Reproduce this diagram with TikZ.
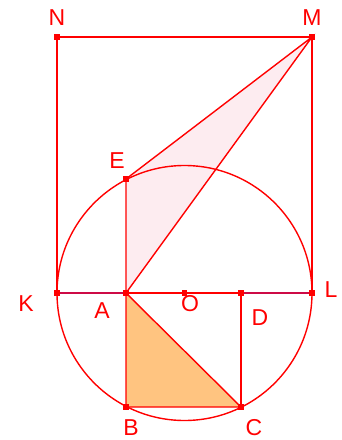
\documentclass[tikz,border=0pt]{standalone}
\usepackage{fontspec}
\setmainfont{Liberation Sans}
\begin{document}
\begin{tikzpicture}[x=1pt,y=-1pt,
  seg/.style={draw=red,line width=1.4pt},
  pt/.style={fill=red,inner sep=0pt,minimum size=5.5pt,rectangle},
  lab/.style={text=red,font=\fontsize{23}{23}\selectfont,inner sep=0pt}]
\useasboundingbox (0,0) rectangle (342,440);
\definecolor{pinkf}{RGB}{253,236,240}
\definecolor{orangef}{RGB}{255,196,128}
\definecolor{crim}{RGB}{205,10,70}
\coordinate (N) at (57,37);
\coordinate (M) at (312,37);
\coordinate (E) at (126,179);
\coordinate (A) at (126,293);
\coordinate (K) at (57,293);
\coordinate (L) at (312,293);
\coordinate (O) at (184.5,293);
\coordinate (D) at (241,293);
\coordinate (B) at (126,407);
\coordinate (C) at (241,407);
% fills
\fill[pinkf] (E) -- (M) -- (A) -- cycle;
\fill[orangef] (A) -- (B) -- (C) -- cycle;
% circle
\draw[red,line width=1.4pt] (O) circle (127.5);
% lines
\draw[crim,line width=1.4pt] (K) -- (L);
\path[seg] (A) -- (D);
\path[seg] (K) -- (N) -- (M) -- (L);
\path[seg] (E) -- (M) -- (A) -- (E);
\path[seg] (A) -- (B) -- (C) -- (A);
\path[seg] (D) -- (C);
% points
\foreach \p in {N,M,E,A,K,L,O,D,B,C} \node[pt] at (\p) {};
% labels
\node[lab] (lN) at (57,18) {N};
\node[lab] (lM) at (312,18) {M};
\node[lab] (lE) at (117,161) {E};
\node[lab] (lK) at (26,304) {K};
\node[lab] (lA) at (102,311) {A};
\node[lab] (lO) at (190,304) {O};
\node[lab] (lD) at (260,318) {D};
\node[lab] (lL) at (331,290) {L};
\node[lab] (lB) at (131,428) {B};
\node[lab] (lC) at (254,428) {C};
\end{tikzpicture}
\end{document}
